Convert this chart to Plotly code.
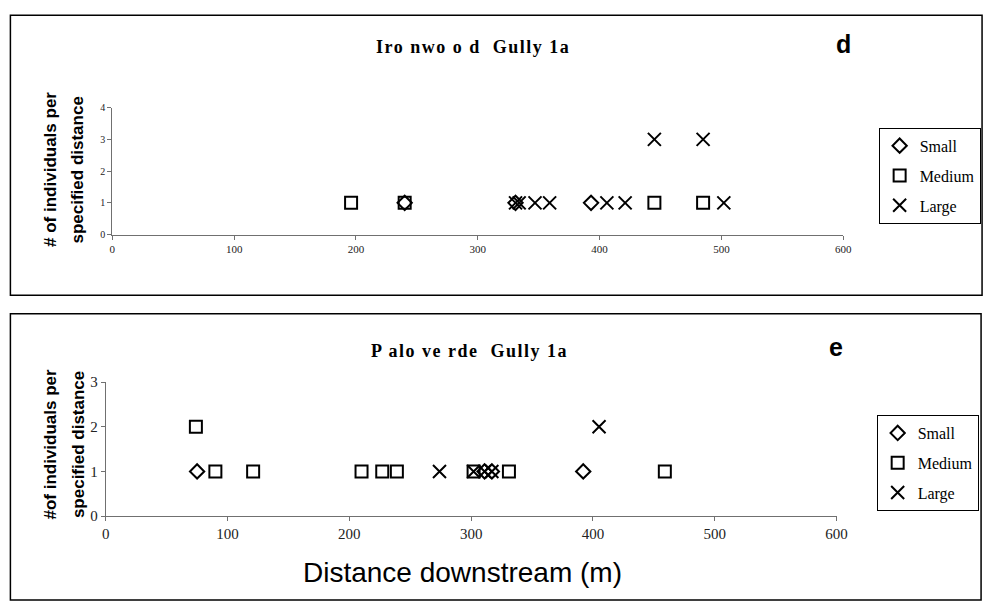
import plotly.graph_objects as go

# ---- data: Ironwood Gully 1a (panel d) ----
iw_small_x = [240, 331, 393]
iw_small_y = [1, 1, 1]
iw_medium_x = [196, 240, 445, 485]
iw_medium_y = [1, 1, 1, 1]
iw_large_x = [331, 334, 347, 359, 406, 421, 445, 485, 502]
iw_large_y = [1, 1, 1, 1, 1, 1, 3, 3, 1]

# ---- data: Paloverde Gully 1a (panel e) ----
pv_small_x = [75, 311, 317, 392]
pv_small_y = [1, 1, 1, 1]
pv_medium_x = [74, 90, 121, 210, 227, 239, 302, 331, 459]
pv_medium_y = [2, 1, 1, 1, 1, 1, 1, 1, 1]
pv_large_x = [274, 302, 311, 317, 405]
pv_large_y = [1, 1, 1, 1, 2]

series_names = ["Small", "Medium", "Large"]
x_ticks = [0, 100, 200, 300, 400, 500, 600]
iw_y_ticks = [0, 1, 2, 3, 4]
pv_y_ticks = [0, 1, 2, 3]

W, H = 997, 610
def px(x): return x / W
def py(y): return 1 - y / H

SERIF = "Liberation Serif, Times New Roman, serif"
SANS = "Liberation Sans, Arial, sans-serif"

sym = {"Small": ("diamond-open", 11), "Medium": ("square-open", 12), "Large": ("x-thin-open", 13)}

fig = go.Figure()

def add(xs, ys, name, xa, ya, legend):
    s, sz = sym[name]
    fig.add_trace(go.Scatter(
        x=xs, y=ys, mode="markers", name=name, xaxis=xa, yaxis=ya, legend=legend,
        legendgroup=legend + name,
        marker=dict(symbol=s, size=sz, color="black", line=dict(color="black", width=2)),
    ))

add(iw_small_x, iw_small_y, "Small", "x", "y", "legend")
add(iw_medium_x, iw_medium_y, "Medium", "x", "y", "legend")
add(iw_large_x, iw_large_y, "Large", "x", "y", "legend")
add(pv_small_x, pv_small_y, "Small", "x2", "y2", "legend2")
add(pv_medium_x, pv_medium_y, "Medium", "x2", "y2", "legend2")
add(pv_large_x, pv_large_y, "Large", "x2", "y2", "legend2")

axis_common = dict(showline=True, linecolor="#707070", linewidth=1, ticks="outside",
                   ticklen=4, tickcolor="#707070", showgrid=False, zeroline=False)

legend_common = dict(xanchor="left", yanchor="top", bordercolor="black", borderwidth=1,
                     bgcolor="white", font=dict(family=SERIF, size=16, color="black"),
                     itemwidth=30, tracegroupgap=6)

fig.update_layout(
    width=W, height=H,
    margin=dict(l=0, r=0, t=0, b=0),
    paper_bgcolor="white", plot_bgcolor="white",
    showlegend=True,
    xaxis=dict(domain=[px(110), px(852)], range=[0, 600], anchor="y",
               tickvals=x_ticks, tickfont=dict(family=SERIF, size=11, color="#222"),
               **axis_common),
    yaxis=dict(domain=[py(232.7), py(102.3)], range=[0, 4], anchor="x",
               tickvals=iw_y_ticks, tickfont=dict(family=SERIF, size=10, color="#222"),
               **axis_common),
    xaxis2=dict(domain=[px(103.3), px(845.3)], range=[0, 600], anchor="y2",
                tickvals=x_ticks, tickfont=dict(family=SERIF, size=15, color="#222"),
                **axis_common),
    yaxis2=dict(domain=[py(521.7), py(384.3)], range=[0, 3], anchor="x2",
                tickvals=pv_y_ticks, tickfont=dict(family=SERIF, size=15, color="#222"),
                **axis_common),
    legend=dict(x=px(888), y=py(123), **legend_common),
    legend2=dict(x=px(886), y=py(418), **legend_common),
)

# panel borders
fig.add_shape(type="rect", xref="paper", yref="paper",
              x0=px(6.5), x1=px(993), y0=py(295), y1=py(7.5),
              line=dict(color="black", width=1.5), layer="below")
fig.add_shape(type="rect", xref="paper", yref="paper",
              x0=px(6.5), x1=px(992), y0=py(608), y1=py(314),
              line=dict(color="black", width=1.5), layer="below")

def ann(text, x, y, size, family, angle=0, xanchor="center", yanchor="middle"):
    fig.add_annotation(text=text, x=px(x), y=py(y), xref="paper", yref="paper",
                       showarrow=False, textangle=angle, xanchor=xanchor, yanchor=yanchor,
                       font=dict(family=family, size=size, color="black"))

# titles
ann('<span style="letter-spacing:1.5px"><b>Iro nwo o d  Gully 1a</b></span>', 476, 40, 18, SERIF)
ann('<span style="letter-spacing:1.5px"><b>P alo ve rde  Gully 1a</b></span>', 473, 352, 18, SERIF)
# panel letters
ann("<b>d</b>", 852, 37, 25, SANS)
ann("<b>e</b>", 845, 348, 25, SANS)
# y-axis titles
ann("<b># of individuals per</b>", 47, 166, 17, SANS, angle=-90)
ann("<b>specified distance</b>", 75, 166, 17, SANS, angle=-90)
ann("<b>#of individuals per</b>", 47, 448, 17, SANS, angle=-90)
ann("<b>specified distance</b>", 75, 448, 17, SANS, angle=-90)
# x-axis title
ann("Distance downstream (m)", 465, 580, 28, SANS)

fig.write_html("out.html", config={"displayModeBar": False},
               post_script="document.body.style.margin='0';document.body.style.overflow='hidden';")
